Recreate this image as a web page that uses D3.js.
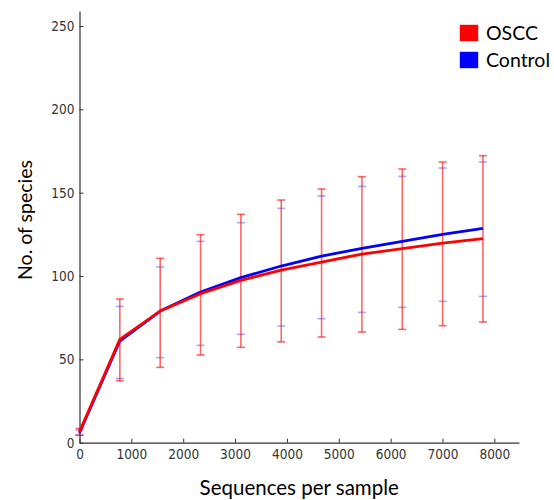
<!DOCTYPE html>
<html>
<head>
<meta charset="utf-8">
<script src="https://cdn.jsdelivr.net/npm/d3@7"></script>
<style>
  body { margin: 0; background: #fff; }
  .tick text { font-family: "DejaVu Sans Condensed", "DejaVu Sans", sans-serif; font-stretch: condensed; }
</style>
</head>
<body>
<div id="container"></div>
<script>
// data
const seqDepth = [0, 778, 1556, 2334, 3112, 3890, 4668, 5446, 6224, 7002, 7780];
const osccMean = [6.5, 62, 79, 89.4, 97.4, 103.6, 108.4, 113.2, 116.4, 119.8, 122.4];
const osccHigh = [8.5, 86.2, 110.6, 124.8, 137, 145.6, 152.2, 159.6, 164.2, 168.4, 172.2];
const osccLow = [4.5, 37.2, 45.2, 52.6, 57.2, 60.5, 63.4, 66.4, 68, 70.2, 72.4];
const controlMean = [6, 61, 79, 90.4, 99, 106, 112, 116.6, 120.8, 125, 128.6];
const controlHigh = [7.5, 81.8, 105.4, 120.8, 132, 140.6, 148, 153.8, 159.8, 164.8, 168.4];
const controlLow = [4.5, 38.6, 51, 58.4, 65, 70, 74.4, 78.2, 81.2, 84.8, 87.8];
const xTicks = [0, 1000, 2000, 3000, 4000, 5000, 6000, 7000, 8000];
const yTicks = [0, 50, 100, 150, 200, 250];
const seriesNames = ["OSCC", "Control"];
const seriesColors = ["#ff0000", "#0000ff"];

// layout
const svgWidth = 554;
const svgHeight = 500;

const x = d3.scaleLinear().domain([0, 8475]).range([79.5, 519]);
const y = d3.scaleLinear().domain([0, 259]).range([442.7, 11]);

const svg = d3.select("#container").append("svg")
  .attr("width", svgWidth)
  .attr("height", svgHeight);

// axes (ticks pointing inward)
const xAxis = svg.append("g")
  .attr("transform", `translate(0,${y(0)})`)
  .call(d3.axisBottom(x).tickValues(xTicks).tickFormat(d3.format("d"))
    .tickSizeInner(-4).tickSizeOuter(0).tickPadding(7));
const yAxis = svg.append("g")
  .attr("transform", `translate(${x(0)},0)`)
  .call(d3.axisLeft(y).tickValues(yTicks).tickFormat(d3.format("d"))
    .tickSizeInner(-4).tickSizeOuter(0).tickPadding(5));

[xAxis, yAxis].forEach(function(g) {
  g.select(".domain").attr("stroke", "#333").attr("stroke-width", 1.2);
  g.selectAll(".tick line").attr("stroke", "#333");
  g.selectAll(".tick text").attr("fill", "#333").attr("font-size", 13.5);
});

// axis titles
svg.append("text")
  .attr("x", (x.range()[0] + x.range()[1]) / 2)
  .attr("y", 495)
  .attr("text-anchor", "middle")
  .attr("font-family", "Lato, 'Open Sans', sans-serif")
  .attr("font-size", 20.5)
  .text("Sequences per sample");

svg.append("text")
  .attr("transform", "translate(32,220) rotate(-90)")
  .attr("text-anchor", "middle")
  .attr("font-family", "Lato, 'Open Sans', sans-serif")
  .attr("font-size", 19.5)
  .text("No. of species");

// error bars + lines, control first so OSCC sits on top
const series = [
  { name: seriesNames[1], color: seriesColors[1], mean: controlMean, low: controlLow, high: controlHigh, alpha: 0.35, stem: false },
  { name: seriesNames[0], color: seriesColors[0], mean: osccMean, low: osccLow, high: osccHigh, alpha: 0.6, stem: true }
];

const line = d3.line()
  .x(function(d) { return x(d[0]); })
  .y(function(d) { return y(d[1]); });

const capHalf = 4;

series.forEach(function(s) {
  const g = svg.append("g");
  const pts = seqDepth.map(function(v, i) { return { x: v, lo: s.low[i], hi: s.high[i] }; });
  const bars = g.selectAll(".err").data(pts).enter().append("g")
    .attr("stroke", s.color)
    .attr("stroke-opacity", s.alpha)
    .attr("stroke-width", 1.6);
  // control stems sit under the wider OSCC stems, only their caps show
  if (s.stem) {
    bars.append("line")
      .attr("x1", function(d) { return x(d.x); })
      .attr("x2", function(d) { return x(d.x); })
      .attr("y1", function(d) { return y(d.lo); })
      .attr("y2", function(d) { return y(d.hi); });
  }
  bars.append("line")
    .attr("x1", function(d) { return x(d.x) - capHalf; })
    .attr("x2", function(d) { return x(d.x) + capHalf; })
    .attr("y1", function(d) { return y(d.hi); })
    .attr("y2", function(d) { return y(d.hi); });
  bars.append("line")
    .attr("x1", function(d) { return x(d.x) - capHalf; })
    .attr("x2", function(d) { return x(d.x) + capHalf; })
    .attr("y1", function(d) { return y(d.lo); })
    .attr("y2", function(d) { return y(d.lo); });
});

series.forEach(function(s) {
  svg.append("path")
    .datum(seqDepth.map(function(v, i) { return [v, s.mean[i]]; }))
    .attr("fill", "none")
    .attr("stroke", s.color)
    .attr("stroke-width", 2.8)
    .attr("stroke-linejoin", "round")
    .attr("d", line);
});

// legend
const legend = svg.append("g").selectAll("g")
  .data(seriesNames)
  .enter().append("g")
  .attr("transform", function(d, i) { return `translate(460,${25 + i * 27})`; });
legend.append("rect")
  .attr("width", 18)
  .attr("height", 16)
  .attr("fill", function(d, i) { return seriesColors[i]; })
  .attr("stroke", function(d, i) { return seriesColors[i]; })
  .attr("stroke-opacity", 0.4);
legend.append("text")
  .attr("x", 26)
  .attr("y", 15)
  .attr("font-family", "Lato, 'Open Sans', sans-serif")
  .attr("font-size", 19.5)
  .text(function(d) { return d; });
</script>
</body>
</html>
